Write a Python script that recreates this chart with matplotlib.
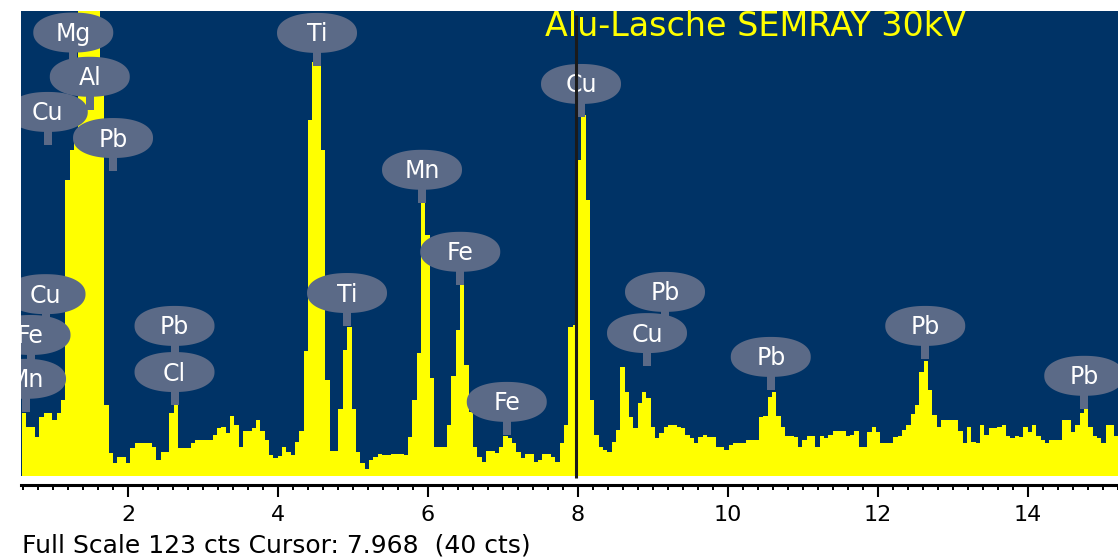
import numpy as np
import matplotlib
matplotlib.use("Agg")
import matplotlib.pyplot as plt
from matplotlib.path import Path
from matplotlib.patches import PathPatch, Rectangle
import matplotlib.transforms as mtransforms

# ---------------- data ----------------
channel_start_kev = 0.587
channel_width_kev = 0.0578
counts = [
    16.7, 13.0, 13.0, 10.3, 15.6, 16.7, 16.7, 14.8, 16.7, 20.1,
    78.3, 86.2, 88.9, 140.0, 150.0, 160.0, 155.0, 145.0, 105.0, 18.8,
    6.1, 3.4, 5.0, 5.0, 3.4, 7.4, 8.7, 8.7, 8.7, 8.7,
    7.7, 4.2, 6.3, 6.3, 16.7, 18.8, 7.4, 7.4, 7.4, 8.7,
    9.5, 9.5, 9.5, 9.5, 10.8, 12.7, 13.0, 11.4, 15.9, 13.5,
    7.7, 11.9, 11.9, 12.7, 14.8, 11.9, 9.5, 5.6, 4.8, 5.3,
    7.7, 6.3, 5.6, 9.0, 11.9, 33.0, 94.2, 109.5, 108.5, 86.2,
    25.4, 6.6, 6.6, 17.7, 33.3, 39.4, 17.7, 6.3, 3.4, 1.9,
    4.2, 5.0, 5.8, 5.6, 5.6, 5.8, 5.8, 5.8, 5.6, 10.3,
    20.1, 32.5, 72.5, 63.8, 25.9, 7.7, 7.7, 7.7, 13.5, 26.5,
    38.6, 50.5, 29.4, 16.9, 7.7, 5.0, 3.7, 6.6, 6.6, 6.1,
    7.7, 10.6, 10.1, 8.7, 6.3, 4.8, 5.8, 5.8, 3.7, 4.2,
    5.8, 5.8, 5.0, 3.7, 8.7, 13.5, 39.4, 40.0, 83.6, 95.5,
    73.0, 20.1, 10.8, 7.7, 6.9, 6.3, 9.0, 12.2, 28.8, 22.2,
    15.6, 12.7, 19.3, 22.2, 20.6, 13.0, 10.1, 11.4, 13.0, 13.5,
    13.5, 13.0, 12.7, 10.8, 10.1, 8.7, 10.3, 10.8, 10.3, 10.3,
    7.7, 7.7, 6.9, 8.2, 8.7, 8.7, 8.7, 9.5, 9.5, 9.5,
    15.6, 15.9, 20.9, 22.2, 15.9, 13.0, 10.6, 10.6, 10.3, 7.7,
    9.5, 10.6, 10.6, 7.7, 10.6, 10.1, 10.8, 11.9, 11.9, 11.9,
    10.6, 10.8, 11.9, 7.7, 7.7, 11.6, 13.0, 11.6, 8.7, 8.7,
    8.7, 10.3, 10.6, 12.2, 13.5, 16.4, 18.8, 27.5, 30.4, 22.8,
    16.1, 13.0, 14.8, 14.8, 14.8, 14.8, 11.9, 8.7, 13.0, 9.0,
    8.7, 13.5, 10.8, 12.7, 12.7, 13.0, 13.5, 10.6, 10.1, 10.6,
    10.3, 13.0, 11.6, 13.5, 10.6, 9.5, 8.7, 9.5, 9.5, 9.5,
    14.8, 14.8, 11.6, 13.5, 16.7, 17.7, 13.0, 10.6, 10.1, 8.7,
    13.5, 13.5, 10.6,
]

label_names = ["Mg", "Al", "Cu", "Pb", "Ti", "Cu", "Mn", "Fe", "Ti", "Cu",
               "Fe", "Mn", "Pb", "Cl", "Fe", "Pb", "Cu", "Pb", "Pb", "Pb"]
label_kev = [1.27, 1.49, 0.93, 1.80, 4.52, 8.04, 5.92, 6.43, 4.92, 0.90,
             0.70, 0.64, 2.62, 2.62, 7.05, 9.16, 8.92, 10.57, 12.63, 14.75]
label_cts = [117.3, 105.6, 96.3, 89.4, 117.2, 103.7, 81.0, 59.3, 48.4, 48.1,
             37.3, 25.7, 39.7, 27.5, 19.6, 48.7, 37.8, 31.5, 39.7, 26.5]

cursor_kev = 7.968
cursor_cts = 40
full_scale = 123
title = "Alu-Lasche SEMRAY 30kV"
x_major_ticks = [2, 4, 6, 8, 10, 12, 14]
x_range = (0.573, 15.2)

# ---------------- styles ----------------
BG = "#003366"
YELLOW = "#ffff00"
BUBBLE = "#5b6a87"
W, H = 1118, 560

plt.rcParams['font.family'] = ['DejaVu Sans']
fig = plt.figure(figsize=(W / 100, H / 100), dpi=100, facecolor="white")

ax = fig.add_axes([21 / W, 1 - 476 / H, 1097 / W, 465 / H])
ax.set_facecolor(BG)
ax.set_xlim(*x_range)
ax.set_ylim(0, full_scale)
for s in ax.spines.values():
    s.set_visible(False)
ax.set_xticks([])
ax.set_yticks([])

edges = channel_start_kev + channel_width_kev * np.arange(len(counts) + 1)
ax.stairs(counts, edges, fill=True, color=YELLOW, zorder=1)

# bubble shape (superellipse) in inches around its anchor
t = np.linspace(0, 2 * np.pi, 160)
n = 2.2
a, b = 0.40, 0.20
bx = a * np.sign(np.cos(t)) * np.abs(np.cos(t)) ** (2 / n)
by = b * np.sign(np.sin(t)) * np.abs(np.sin(t)) ** (2 / n)
bubble_path = Path(np.column_stack([bx, by]), closed=True)
stem_path = Path([(-0.04, -0.19), (0.04, -0.19), (0.04, -0.33), (-0.04, -0.33), (-0.04, -0.19)], closed=True)

clip_rect = Rectangle((8 / W, 84 / H), 1110 / W, (H - 11 - 84) / H,
                      transform=fig.transFigure, facecolor="none", edgecolor="none")

for name, xk, yc in zip(label_names, label_kev, label_cts):
    tr = fig.dpi_scale_trans + mtransforms.ScaledTranslation(xk, yc, ax.transData)
    for p in (stem_path, bubble_path):
        patch = PathPatch(p, transform=tr, facecolor=BUBBLE, edgecolor="none", zorder=3)
        patch.set_clip_path(clip_rect)
        ax.add_patch(patch)

for name, xk, yc in zip(label_names, label_kev, label_cts):
    ttr = mtransforms.offset_copy(ax.transData, fig=fig, x=0, y=-8.5, units="dots")
    txt = ax.text(xk, yc, name, transform=ttr, ha="center", va="baseline",
                  color="white", fontsize=17, zorder=4)
    txt.set_clip_path(clip_rect)

# title
ax.text(545 / W, 1 - 26 / H, title, transform=fig.transFigure, ha="left", va="center",
        color=YELLOW, fontsize=24, zorder=4, clip_on=False)

# cursor
ax.vlines(cursor_kev, -0.5, 122, colors="#1a1a1a", linewidth=2.2, zorder=5, clip_on=False)

# ruler axis
rax = fig.add_axes([21 / W, 1 - 485 / H, 1097 / W, 0.0001])
rax.set_xlim(*x_range)
rax.patch.set_alpha(0)
for k in ("left", "right", "top"):
    rax.spines[k].set_visible(False)
rax.spines["bottom"].set_linewidth(2.2)
rax.set_yticks([])
rax.set_xticks(x_major_ticks)
rax.set_xticklabels([str(v) for v in x_major_ticks])
rax.set_xticks(np.arange(0.6, 15.21, 0.2), minor=True)
rax.tick_params(axis="x", which="major", length=8.6, width=1.5, pad=5.5, labelsize=16, direction="out")
rax.tick_params(axis="x", which="minor", length=3.6, width=1.4, direction="out")

fig.text(22 / W, 1 - 545 / H,
         f"Full Scale {full_scale} cts Cursor: {cursor_kev:.3f}  ({cursor_cts} cts)",
         ha="left", va="center", fontsize=18, color="black")

fig.savefig("out.png", dpi=100, facecolor="white")
